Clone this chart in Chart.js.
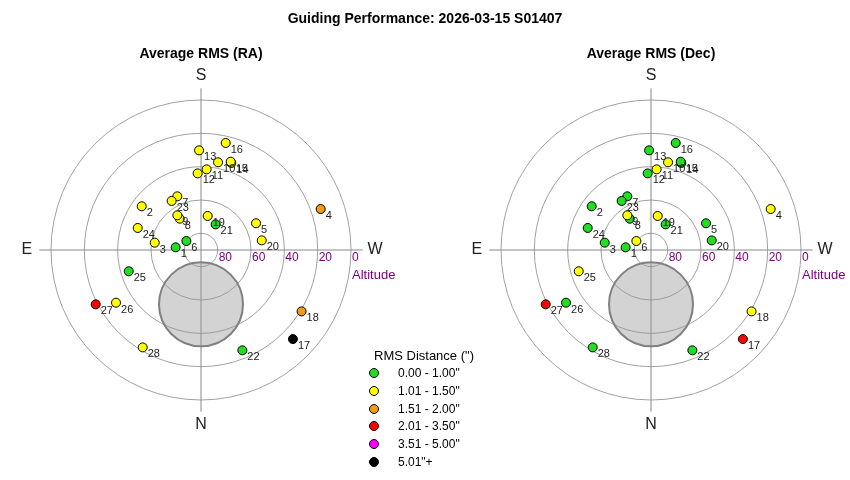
<!DOCTYPE html>
<html>
<head>
<meta charset="utf-8">
<script src="https://cdn.jsdelivr.net/npm/chart.js@4"></script>
<style>
  body { margin:0; background:#fff; font-family:"Liberation Sans", Arial, sans-serif; }
  #wrap { position:relative; width:850px; height:480px; overflow:hidden; }
  canvas { position:absolute; top:0; }
  .t { position:absolute; white-space:nowrap; color:#000; }
  .lg { position:absolute; font-size:12px; color:#000; white-space:nowrap; }
  .dot { position:absolute; width:8px; height:8px; border-radius:50%; border:1px solid #000; }
</style>
</head>
<body>
<div id="wrap">
  <canvas id="ra-chart" width="400" height="480" style="left:1px"></canvas>
  <canvas id="dec-chart" width="400" height="480" style="left:451px"></canvas>
  <div class="t" style="left:0;width:850px;text-align:center;top:10px;font-weight:bold;font-size:14px">Guiding Performance: 2026-03-15 S01407</div>
  <div class="t" style="left:101px;width:200px;text-align:center;top:45px;font-weight:bold;font-size:14px">Average RMS (RA)</div>
  <div class="t" style="left:551px;width:200px;text-align:center;top:45px;font-weight:bold;font-size:14px">Average RMS (Dec)</div>
  <div id="legend"></div>
</div>
<script>
// frame number, altitude (deg), azimuth (deg, from N through E)
var frameIds = [1,2,3,4,5,6,7,8,9,10,11,12,13,14,15,16,17,18,19,20,21,22,23,24,25,26,27,28];
var altitude = [74.7,45.8,61.9,14.1,53.3,79.7,54.8,67.3,64.8,36.4,41.5,44.0,30.2,34.7,34.1,24.1,13.2,19.3,69.2,53.1,72.3,24.9,55.7,49.8,44.8,30.0,18.9,21.9];
var azimuth = [96,126.4,99,251.1,244.1,121.5,156.2,145.8,145.7,191,184,177.5,178.9,199.2,198.6,193,314.1,301.4,191.1,261,209.7,337.6,149.1,109.2,73.6,58.2,62.7,30.9];

// rms bin index per frame
var rmsClassRA  = [0,1,1,2,1,0,1,1,1,1,1,1,1,1,1,1,5,2,1,1,0,0,1,1,0,1,3,1];
var rmsClassDec = [0,0,0,1,0,1,0,0,1,1,1,0,0,0,0,0,3,1,1,0,0,0,0,0,1,0,3,0];

var rmsBins = ['0.00 - 1.00"', '1.01 - 1.50"', '1.51 - 2.00"', '2.01 - 3.50"', '3.51 - 5.00"', '5.01"+'];
var binColors = ['#22dd22', '#ffff00', '#f39c12', '#ff0000', '#ff00ff', '#000000'];

var altRings = [80, 60, 40, 20, 0];
var compass = ['N', 'E', 'S', 'W'];

// moon position and apparent size (deg)
var moonAlt = 57.4, moonAz = 0, moonSize = 25.2;

function toXY(alt, az) {
    var r = 90 - alt;
    var a = az * Math.PI / 180;
    return {x: -r * Math.sin(a), y: -r * Math.cos(a)};
}

var skyGrid = {
    id: 'skyGrid',
    beforeDatasetsDraw: function(chart) {
        var ctx = chart.ctx, sx = chart.scales.x, sy = chart.scales.y;
        var cx = sx.getPixelForValue(0), cy = sy.getPixelForValue(0);
        var k = sx.getPixelForValue(1) - cx;
        ctx.save();
        ctx.strokeStyle = '#a0a0a0';
        ctx.lineWidth = 1;
        altRings.forEach(function(alt) {
            ctx.beginPath();
            ctx.arc(cx, cy, (90 - alt) * k, 0, Math.PI * 2);
            ctx.stroke();
        });
        ctx.strokeStyle = '#888';
        ctx.beginPath();
        ctx.moveTo(cx, cy - 97 * k); ctx.lineTo(cx, cy + 97 * k);
        ctx.moveTo(cx - 97 * k, cy); ctx.lineTo(cx + 97 * k, cy);
        ctx.stroke();

        ctx.fillStyle = '#800080';
        ctx.font = '12px "Liberation Sans", Arial';
        ctx.textAlign = 'left';
        ctx.textBaseline = 'middle';
        altRings.forEach(function(alt) {
            ctx.fillText(String(alt), cx + (90 - alt) * k + 1, cy + 8);
        });
        ctx.font = '13px "Liberation Sans", Arial';
        ctx.fillText('Altitude', cx + 90 * k + 1, cy + 25);

        ctx.fillStyle = '#222';
        ctx.font = '16px "Liberation Sans", Arial';
        ctx.textAlign = 'center';
        compass.forEach(function(c, i) {
            var p = toXY(90 - 104.5, i * 90);
            ctx.fillText(c, sx.getPixelForValue(p.x), sy.getPixelForValue(p.y));
        });
        ctx.restore();
    },
    afterDatasetsDraw: function(chart) {
        var ctx = chart.ctx;
        var meta = chart.getDatasetMeta(0);
        ctx.save();
        ctx.fillStyle = '#222';
        ctx.font = '11px "Liberation Sans", Arial';
        ctx.textAlign = 'left';
        ctx.textBaseline = 'middle';
        meta.data.forEach(function(pt, i) {
            ctx.fillText(String(frameIds[i]), pt.x + 5, pt.y + 7);
        });
        ctx.restore();
    }
};

function makeSkyChart(canvasId, classes) {
    var points = altitude.map(function(alt, i) { return toXY(alt, azimuth[i]); });
    var moon = toXY(moonAlt, moonAz);
    var ctx = document.getElementById(canvasId).getContext('2d');
    return new Chart(ctx, {
        type: 'scatter',
        data: {
            datasets: [{
                data: points,
                order: 1,
                pointRadius: 4.5,
                borderWidth: 1,
                borderColor: '#000',
                backgroundColor: classes.map(function(c) { return binColors[c]; })
            }, {
                order: 2,
                data: [moon],
                pointRadius: function(c) {
                    var s = c.chart.scales.x;
                    return s.getPixelForValue(moonSize) - s.getPixelForValue(0);
                },
                backgroundColor: 'rgba(150,150,150,0.42)',
                borderColor: '#808080',
                borderWidth: 2
            }]
        },
        options: {
            responsive: false,
            animation: false,
            layout: { padding: 0, autoPadding: false },
            plugins: { legend: { display: false }, tooltip: { enabled: false } },
            scales: {
                x: { type: 'linear', display: false, min: -120, max: 120 },
                y: { type: 'linear', display: false, min: -138, max: 150 }
            }
        },
        plugins: [skyGrid]
    });
}

makeSkyChart('ra-chart', rmsClassRA);
makeSkyChart('dec-chart', rmsClassDec);

// legend
var lg = document.getElementById('legend');
var html = '<div class="lg" style="left:374px;top:348px;font-size:13px">RMS Distance (")</div>';
rmsBins.forEach(function(label, i) {
    var y = 373 + i * 17.8;
    html += '<div class="dot" style="left:369px;top:' + (y - 5) + 'px;background:' + binColors[i] + '"></div>';
    html += '<div class="lg" style="left:398px;top:' + (y - 7) + 'px">' + label + '</div>';
});
lg.innerHTML = html;
</script>
</body>
</html>
